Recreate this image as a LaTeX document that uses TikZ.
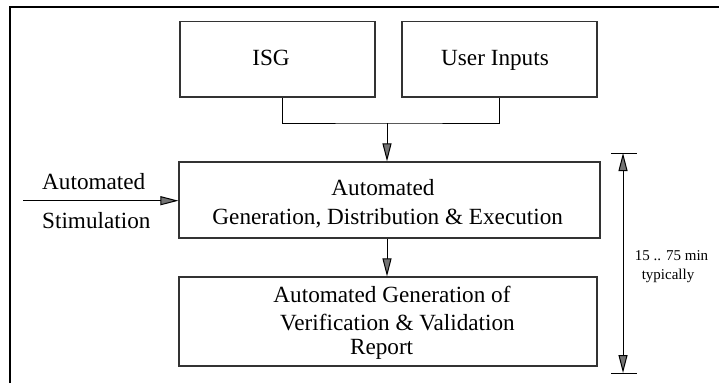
\documentclass[tikz,border=0pt]{standalone}
\usepackage{fontspec}
\setmainfont{Liberation Serif}
\usetikzlibrary{arrows.meta}
\begin{document}
\begin{tikzpicture}[x=1pt,y=-1pt,
  box/.style={draw=black!80,line width=1.2pt,inner sep=0pt,rectangle},
  big/.style={font=\fontsize{23.2}{28}\selectfont,anchor=base,inner sep=0pt},
  small/.style={font=\fontsize{15}{18}\selectfont,anchor=base,inner sep=0pt},
  wire/.style={draw=black,line width=1pt},
  hatch/.tip={Triangle[length=18pt,width=9pt,fill=black!55]},
]
  % page area and outer frame
  \fill[white] (0,0) rectangle (719,383);
  \useasboundingbox (0,0) rectangle (719,383);
  \coordinate (fbl) at (10,383);
  \coordinate (ftl) at (10,7.3);
  \coordinate (ftr) at (719,7.3);
  \draw[line width=2pt] (fbl) -- (ftl) -- (ftr);

  % boxes
  \node[box,minimum width=195pt,minimum height=75.7pt] (isg)  at (277.5,59.2) {};
  \node[box,minimum width=195pt,minimum height=75.7pt] (user) at (499.5,59.2) {};
  \node[box,minimum width=421pt,minimum height=76pt]   (mid)  at (389.5,200) {};
  \node[box,minimum width=418pt,minimum height=89pt]   (bot)  at (388,321.5) {};

  % box texts
  \node[big] (tisg)  at (271,65) {ISG};
  \node[big] (tuser) at (495,65) {User Inputs};
  \node[big] (tm1) at (383,195) {Automated};
  \node[big] (tm2) at (387.7,224) {Generation, Distribution \& Execution};
  \node[big] (tb1) at (392,302.7) {Automated Generation of};
  \node[big] (tb2) at (397.5,330) {Verification \& Validation};
  \node[big] (tb3) at (381.6,354.3) {Report};

  % inputs joining into the middle box
  \coordinate (j) at (387,123);
  \draw[wire] ([xshift=4.5pt]isg.south) |- (j) -| (user.south);
  \draw[wire,-hatch] (j) -- (j |- mid.north);
  \draw[wire,-hatch] (j |- mid.south) -- (j |- bot.north);

  % external stimulation
  \coordinate (in) at (23,200.7);
  \draw[wire,-hatch] (in) -- (in -| mid.west);
  \node[big,anchor=base west] (ta1) at (42,189.3) {Automated};
  \node[big,anchor=base west] (ta2) at (42,228) {Stimulation};

  % duration dimension
  \coordinate (dt) at (623,153);
  \coordinate (db) at (623,373);
  \draw[wire] ([xshift=-12pt]dt) -- ([xshift=14pt]dt);
  \draw[wire] ([xshift=-12pt]db) -- ([xshift=14pt]db);
  \draw[wire,hatch-hatch] (dt) -- (db);
  \node[small] (td1) at (671.5,260.7) {15 .. 75 min};
  \node[small] (td2) at (668,279) {typically};
\end{tikzpicture}
\end{document}
